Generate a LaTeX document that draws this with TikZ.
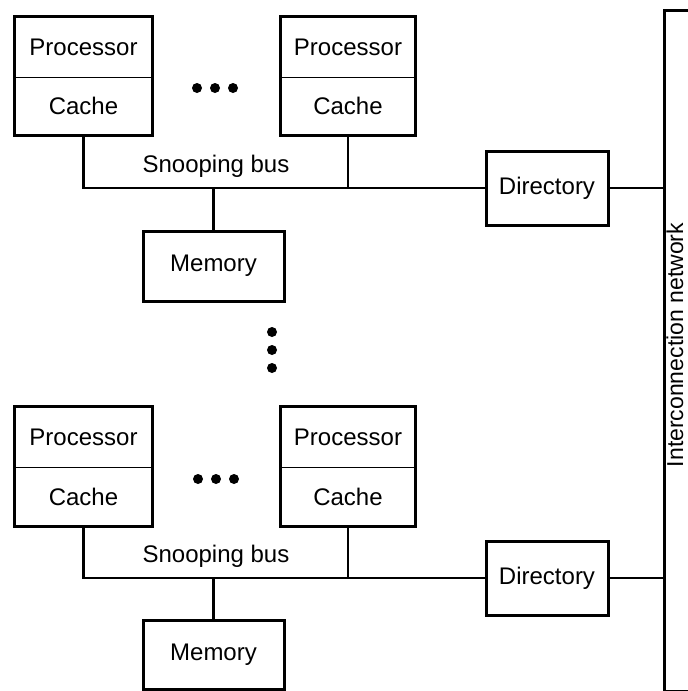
\documentclass[tikz,border=0pt]{standalone}
\usepackage{fontspec}
\setmainfont{Liberation Sans}
\begin{document}
\begin{tikzpicture}[x=1pt,y=-1pt,
  lbl/.style={font=\fontsize{24}{28}\selectfont, inner sep=0pt},
  half/.style={lbl, minimum width=#1, minimum height=59},
  box/.style={lbl, draw, line width=3pt, minimum width=#1},
  thickbox/.style={line width=3pt},
  divider/.style={line width=1.2pt},
  wire/.style={line width=2.8pt},
  dot/.style={fill=black, circle, inner sep=0pt, minimum size=10pt}]
\useasboundingbox (0,0) rectangle (688,691);

% interconnection network
\node[draw, line width=3pt, minimum width=80, minimum height=681, anchor=north west, inner sep=0pt] (net) at (663,9) {};
\node[lbl, font=\fontsize{23}{27}\selectfont, rotate=90, anchor=base] (netlbl) at (683,345) {Interconnection network};

% ---------- top cluster ----------
\node[half=137, minimum height=60] (pA) at (83.5,47) {Processor};
\node[half=137, minimum height=58] (cA) at (83.5,106) {Cache};
\draw[thickbox] (pA.north west) rectangle (cA.south east);
\draw[divider] (pA.south west) -- (pA.south east);

\node[half=134, minimum height=60] (pB) at (348,47) {Processor};
\node[half=134, minimum height=58] (cB) at (348,106) {Cache};
\draw[thickbox] (pB.north west) rectangle (cB.south east);
\draw[divider] (pB.south west) -- (pB.south east);

\node[dot] (d1) at (197,88) {};
\node[dot] (d2) at (215,88) {};
\node[dot] (d3) at (233,88) {};

\node[box=122, minimum height=74] (dirA) at (547,188) {Directory};
\node[box=141, minimum height=70] (memA) at (213.5,266) {Memory};
\node[lbl] (busA) at (216,166) {Snooping bus};

\draw[wire] (cA.south) |- (dirA.west);
\draw[wire] (cB.south) -- (cB.south |- dirA.west);
\draw[wire] (memA.north) -- (memA.north |- dirA.west);
\draw[wire] (dirA.east) -- (dirA.east -| net.west);

% vertical ellipsis
\node[dot] (v1) at (272,332) {};
\node[dot] (v2) at (272,350) {};
\node[dot] (v3) at (272,368) {};

% ---------- bottom cluster ----------
\node[half=137, minimum height=60] (pC) at (83.5,437) {Processor};
\node[half=137, minimum height=59] (cC) at (83.5,496.5) {Cache};
\draw[thickbox] (pC.north west) rectangle (cC.south east);
\draw[divider] (pC.south west) -- (pC.south east);

\node[half=134, minimum height=60] (pD) at (348,437) {Processor};
\node[half=134, minimum height=59] (cD) at (348,496.5) {Cache};
\draw[thickbox] (pD.north west) rectangle (cD.south east);
\draw[divider] (pD.south west) -- (pD.south east);

\node[dot] (d4) at (198,479) {};
\node[dot] (d5) at (216,479) {};
\node[dot] (d6) at (234,479) {};

\node[box=122, minimum height=74] (dirB) at (547,578) {Directory};
\node[box=141, minimum height=69] (memB) at (213.5,655) {Memory};
\node[lbl] (busB) at (216,556) {Snooping bus};

\draw[wire] (cC.south) |- (dirB.west);
\draw[wire] (cD.south) -- (cD.south |- dirB.west);
\draw[wire] (memB.north) -- (memB.north |- dirB.west);
\draw[wire] (dirB.east) -- (dirB.east -| net.west);
\end{tikzpicture}
\end{document}
